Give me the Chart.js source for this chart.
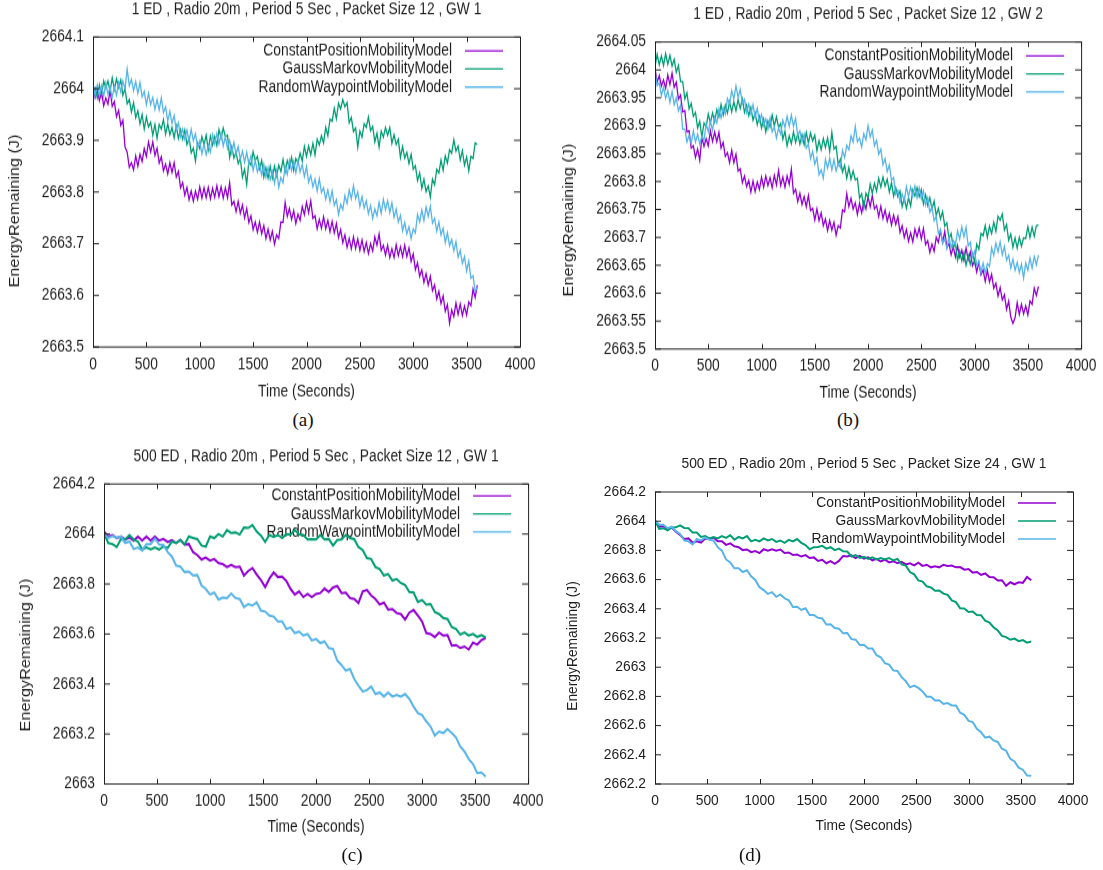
<!DOCTYPE html>
<html>
<head>
<meta charset="utf-8">
<title>EnergyRemaining</title>
<script src="https://cdn.jsdelivr.net/npm/chart.js@4.4.0/dist/chart.umd.min.js"></script>
<style>
  html, body { margin: 0; padding: 0; background: #fff; }
  body { width: 1103px; height: 870px; position: relative; overflow: hidden; }
  canvas { position: absolute; transform-origin: 0 0; }
  .cap {
    position: absolute;
    font-family: 'Liberation Serif', 'Times New Roman', serif;
    font-size: 19px;
    color: #111;
    transform: translate(-50%, -50%);
  }
</style>
</head>
<body>
<canvas id="chartA"></canvas>
<canvas id="chartB"></canvas>
<canvas id="chartC"></canvas>
<canvas id="chartD"></canvas>
<div class="cap" style="left:303px;top:420px">(a)</div>
<div class="cap" style="left:848px;top:420px">(b)</div>
<div class="cap" style="left:352px;top:855px">(c)</div>
<div class="cap" style="left:750px;top:855px">(d)</div>

<script>
// sample times (s): 20 s steps for the 1 ED runs, 40 s steps for the 500 ED runs
const times20 = [0, 20, 40, 60, 80, 100, 120, 140, 160, 180,
  200, 220, 240, 260, 280, 300, 320, 340, 360, 380,
  400, 420, 440, 460, 480, 500, 520, 540, 560, 580,
  600, 620, 640, 660, 680, 700, 720, 740, 760, 780,
  800, 820, 840, 860, 880, 900, 920, 940, 960, 980,
  1000, 1020, 1040, 1060, 1080, 1100, 1120, 1140, 1160, 1180,
  1200, 1220, 1240, 1260, 1280, 1300, 1320, 1340, 1360, 1380,
  1400, 1420, 1440, 1460, 1480, 1500, 1520, 1540, 1560, 1580,
  1600, 1620, 1640, 1660, 1680, 1700, 1720, 1740, 1760, 1780,
  1800, 1820, 1840, 1860, 1880, 1900, 1920, 1940, 1960, 1980,
  2000, 2020, 2040, 2060, 2080, 2100, 2120, 2140, 2160, 2180,
  2200, 2220, 2240, 2260, 2280, 2300, 2320, 2340, 2360, 2380,
  2400, 2420, 2440, 2460, 2480, 2500, 2520, 2540, 2560, 2580,
  2600, 2620, 2640, 2660, 2680, 2700, 2720, 2740, 2760, 2780,
  2800, 2820, 2840, 2860, 2880, 2900, 2920, 2940, 2960, 2980,
  3000, 3020, 3040, 3060, 3080, 3100, 3120, 3140, 3160, 3180,
  3200, 3220, 3240, 3260, 3280, 3300, 3320, 3340, 3360, 3380,
  3400, 3420, 3440, 3460, 3480, 3500, 3520, 3540, 3560, 3580,
  3600];
const times40 = [0, 40, 80, 120, 160, 200, 240, 280, 320, 360,
  400, 440, 480, 520, 560, 600, 640, 680, 720, 760,
  800, 840, 880, 920, 960, 1000, 1040, 1080, 1120, 1160,
  1200, 1240, 1280, 1320, 1360, 1400, 1440, 1480, 1520, 1560,
  1600, 1640, 1680, 1720, 1760, 1800, 1840, 1880, 1920, 1960,
  2000, 2040, 2080, 2120, 2160, 2200, 2240, 2280, 2320, 2360,
  2400, 2440, 2480, 2520, 2560, 2600, 2640, 2680, 2720, 2760,
  2800, 2840, 2880, 2920, 2960, 3000, 3040, 3080, 3120, 3160,
  3200, 3240, 3280, 3320, 3360, 3400, 3440, 3480, 3520, 3560,
  3600];

const xTicks = [0, 500, 1000, 1500, 2000, 2500, 3000, 3500, 4000];
const seriesNames = ['ConstantPositionMobilityModel', 'GaussMarkovMobilityModel', 'RandomWaypointMobilityModel'];
const seriesColors = ['#9400d3', '#009e73', '#56b4e9'];

// ---- (a) 1 ED, GW 1
const titleA = '1 ED , Radio 20m , Period 5 Sec , Packet Size 12 , GW 1';
const yTicksA = [2663.5, 2663.6, 2663.7, 2663.8, 2663.9, 2664, 2664.1];
const constantA = [2664.010, 2663.983, 2663.998, 2663.977, 2663.994, 2663.967, 2663.982, 2663.970, 2663.997, 2663.966,
  2663.975, 2663.946, 2663.958, 2663.929, 2663.939, 2663.887, 2663.877, 2663.848, 2663.857, 2663.843,
  2663.870, 2663.850, 2663.873, 2663.859, 2663.884, 2663.869, 2663.897, 2663.878, 2663.897, 2663.871,
  2663.885, 2663.856, 2663.868, 2663.841, 2663.854, 2663.835, 2663.857, 2663.838, 2663.857, 2663.829,
  2663.840, 2663.808, 2663.818, 2663.794, 2663.809, 2663.785, 2663.802, 2663.782, 2663.802, 2663.786,
  2663.810, 2663.788, 2663.808, 2663.789, 2663.809, 2663.787, 2663.807, 2663.790, 2663.812, 2663.791,
  2663.810, 2663.788, 2663.808, 2663.789, 2663.818, 2663.775, 2663.782, 2663.762, 2663.782, 2663.759,
  2663.775, 2663.750, 2663.768, 2663.741, 2663.754, 2663.727, 2663.742, 2663.722, 2663.742, 2663.719,
  2663.735, 2663.710, 2663.728, 2663.707, 2663.724, 2663.699, 2663.717, 2663.710, 2663.742, 2663.741,
  2663.780, 2663.753, 2663.768, 2663.747, 2663.764, 2663.739, 2663.757, 2663.745, 2663.772, 2663.756,
  2663.780, 2663.760, 2663.783, 2663.749, 2663.754, 2663.729, 2663.747, 2663.730, 2663.752, 2663.729,
  2663.745, 2663.723, 2663.743, 2663.721, 2663.739, 2663.712, 2663.727, 2663.702, 2663.717, 2663.693,
  2663.710, 2663.690, 2663.713, 2663.691, 2663.709, 2663.687, 2663.707, 2663.685, 2663.702, 2663.681,
  2663.700, 2663.686, 2663.713, 2663.697, 2663.719, 2663.687, 2663.697, 2663.678, 2663.697, 2663.673,
  2663.690, 2663.673, 2663.698, 2663.677, 2663.694, 2663.675, 2663.697, 2663.675, 2663.692, 2663.666,
  2663.680, 2663.650, 2663.663, 2663.637, 2663.649, 2663.625, 2663.642, 2663.620, 2663.637, 2663.609,
  2663.620, 2663.593, 2663.608, 2663.584, 2663.599, 2663.569, 2663.582, 2663.546, 2663.572, 2663.559,
  2663.585, 2663.563, 2663.583, 2663.561, 2663.579, 2663.562, 2663.587, 2663.580, 2663.612, 2663.596,
  2663.620];
const gaussA = [2663.984, 2664.001, 2663.982, 2664.007, 2663.987, 2664.015, 2664.001, 2664.015, 2663.995, 2664.021,
  2663.999, 2664.019, 2664.002, 2664.017, 2663.987, 2664.000, 2663.971, 2663.979, 2663.955, 2663.973,
  2663.944, 2663.957, 2663.932, 2663.950, 2663.922, 2663.945, 2663.926, 2663.935, 2663.910, 2663.931,
  2663.904, 2663.931, 2663.922, 2663.940, 2663.912, 2663.932, 2663.911, 2663.925, 2663.905, 2663.928,
  2663.904, 2663.921, 2663.902, 2663.920, 2663.892, 2663.905, 2663.876, 2663.885, 2663.860, 2663.895,
  2663.884, 2663.907, 2663.892, 2663.910, 2663.882, 2663.908, 2663.891, 2663.907, 2663.890, 2663.921,
  2663.904, 2663.924, 2663.907, 2663.910, 2663.867, 2663.888, 2663.866, 2663.877, 2663.855, 2663.865,
  2663.829, 2663.844, 2663.815, 2663.860, 2663.852, 2663.878, 2663.861, 2663.869, 2663.845, 2663.861,
  2663.829, 2663.847, 2663.827, 2663.850, 2663.827, 2663.850, 2663.831, 2663.852, 2663.840, 2663.863,
  2663.839, 2663.861, 2663.847, 2663.867, 2663.842, 2663.865, 2663.856, 2663.875, 2663.860, 2663.888,
  2663.869, 2663.889, 2663.872, 2663.894, 2663.872, 2663.902, 2663.891, 2663.909, 2663.895, 2663.925,
  2663.909, 2663.941, 2663.937, 2663.962, 2663.942, 2663.972, 2663.961, 2663.979, 2663.965, 2663.973,
  2663.934, 2663.944, 2663.917, 2663.924, 2663.887, 2663.918, 2663.906, 2663.932, 2663.925, 2663.945,
  2663.919, 2663.927, 2663.897, 2663.914, 2663.887, 2663.918, 2663.906, 2663.925, 2663.910, 2663.925,
  2663.894, 2663.911, 2663.892, 2663.902, 2663.867, 2663.888, 2663.866, 2663.877, 2663.855, 2663.873,
  2663.844, 2663.851, 2663.822, 2663.837, 2663.807, 2663.825, 2663.801, 2663.812, 2663.790, 2663.825,
  2663.814, 2663.844, 2663.837, 2663.862, 2663.842, 2663.870, 2663.856, 2663.882, 2663.875, 2663.901,
  2663.879, 2663.889, 2663.862, 2663.880, 2663.852, 2663.868, 2663.841, 2663.869, 2663.865, 2663.895,
  2663.892];
const waypointA = [2664.009, 2663.987, 2664.007, 2663.987, 2664.005, 2663.985, 2664.011, 2663.989, 2664.003, 2663.983,
  2664.004, 2663.987, 2664.012, 2663.994, 2664.015, 2663.999, 2664.038, 2664.006, 2664.018, 2663.996,
  2664.014, 2663.991, 2664.012, 2663.984, 2663.995, 2663.969, 2663.991, 2663.969, 2663.983, 2663.960,
  2663.979, 2663.959, 2663.982, 2663.954, 2663.965, 2663.937, 2663.956, 2663.933, 2663.948, 2663.920,
  2663.934, 2663.907, 2663.922, 2663.902, 2663.920, 2663.897, 2663.921, 2663.899, 2663.913, 2663.886,
  2663.899, 2663.874, 2663.892, 2663.872, 2663.890, 2663.877, 2663.911, 2663.893, 2663.913, 2663.893,
  2663.914, 2663.889, 2663.907, 2663.884, 2663.900, 2663.875, 2663.896, 2663.873, 2663.888, 2663.863,
  2663.879, 2663.857, 2663.877, 2663.854, 2663.870, 2663.842, 2663.861, 2663.839, 2663.853, 2663.833,
  2663.854, 2663.829, 2663.847, 2663.824, 2663.840, 2663.817, 2663.841, 2663.809, 2663.828, 2663.818,
  2663.849, 2663.834, 2663.862, 2663.842, 2663.860, 2663.837, 2663.861, 2663.839, 2663.853, 2663.830,
  2663.849, 2663.819, 2663.832, 2663.810, 2663.825, 2663.802, 2663.826, 2663.799, 2663.808, 2663.786,
  2663.804, 2663.781, 2663.802, 2663.774, 2663.785, 2663.757, 2663.776, 2663.766, 2663.793, 2663.778,
  2663.804, 2663.787, 2663.812, 2663.787, 2663.800, 2663.772, 2663.791, 2663.769, 2663.783, 2663.758,
  2663.774, 2663.749, 2663.767, 2663.754, 2663.780, 2663.759, 2663.786, 2663.766, 2663.783, 2663.760,
  2663.779, 2663.751, 2663.767, 2663.742, 2663.755, 2663.725, 2663.741, 2663.719, 2663.733, 2663.710,
  2663.729, 2663.721, 2663.757, 2663.742, 2663.765, 2663.745, 2663.771, 2663.753, 2663.773, 2663.740,
  2663.749, 2663.724, 2663.742, 2663.717, 2663.730, 2663.702, 2663.721, 2663.696, 2663.708, 2663.686,
  2663.704, 2663.674, 2663.687, 2663.662, 2663.675, 2663.647, 2663.666, 2663.633, 2663.638, 2663.608,
  2663.615];

// ---- (b) 1 ED, GW 2
const titleB = '1 ED , Radio 20m , Period 5 Sec , Packet Size 12 , GW 2';
const yTicksB = [2663.5, 2663.55, 2663.6, 2663.65, 2663.7, 2663.75, 2663.8, 2663.85, 2663.9, 2663.95, 2664, 2664.05];
const constantB = [2664.003, 2663.978, 2663.990, 2663.971, 2663.982, 2663.967, 2663.991, 2663.974, 2663.994, 2663.969,
  2663.978, 2663.948, 2663.955, 2663.925, 2663.927, 2663.889, 2663.891, 2663.860, 2663.864, 2663.843,
  2663.858, 2663.838, 2663.880, 2663.863, 2663.877, 2663.864, 2663.891, 2663.872, 2663.889, 2663.871,
  2663.888, 2663.860, 2663.870, 2663.845, 2663.852, 2663.834, 2663.856, 2663.834, 2663.849, 2663.819,
  2663.823, 2663.798, 2663.810, 2663.791, 2663.802, 2663.781, 2663.801, 2663.782, 2663.799, 2663.786,
  2663.808, 2663.790, 2663.810, 2663.793, 2663.807, 2663.789, 2663.811, 2663.794, 2663.820, 2663.793,
  2663.808, 2663.790, 2663.810, 2663.795, 2663.822, 2663.779, 2663.786, 2663.764, 2663.779, 2663.759,
  2663.773, 2663.755, 2663.775, 2663.748, 2663.752, 2663.731, 2663.751, 2663.730, 2663.744, 2663.721,
  2663.733, 2663.712, 2663.730, 2663.713, 2663.727, 2663.704, 2663.721, 2663.717, 2663.749, 2663.746,
  2663.778, 2663.755, 2663.770, 2663.751, 2663.762, 2663.741, 2663.761, 2663.744, 2663.764, 2663.751,
  2663.773, 2663.755, 2663.775, 2663.751, 2663.757, 2663.737, 2663.756, 2663.734, 2663.749, 2663.729,
  2663.743, 2663.722, 2663.740, 2663.723, 2663.737, 2663.709, 2663.721, 2663.700, 2663.714, 2663.693,
  2663.708, 2663.692, 2663.715, 2663.701, 2663.717, 2663.697, 2663.716, 2663.687, 2663.694, 2663.673,
  2663.688, 2663.675, 2663.700, 2663.691, 2663.712, 2663.691, 2663.711, 2663.682, 2663.689, 2663.669,
  2663.683, 2663.665, 2663.685, 2663.665, 2663.677, 2663.659, 2663.681, 2663.660, 2663.674, 2663.649,
  2663.658, 2663.638, 2663.655, 2663.633, 2663.642, 2663.621, 2663.641, 2663.620, 2663.634, 2663.609,
  2663.618, 2663.595, 2663.610, 2663.588, 2663.597, 2663.571, 2663.586, 2663.557, 2663.546, 2663.556,
  2663.583, 2663.562, 2663.580, 2663.563, 2663.577, 2663.561, 2663.586, 2663.580, 2663.609, 2663.596,
  2663.612];
const gaussB = [2664.006, 2664.028, 2664.009, 2664.025, 2664.008, 2664.029, 2664.010, 2664.026, 2664.007, 2664.019,
  2663.996, 2664.008, 2663.979, 2663.979, 2663.948, 2663.959, 2663.930, 2663.940, 2663.917, 2663.924,
  2663.896, 2663.908, 2663.879, 2663.905, 2663.898, 2663.921, 2663.905, 2663.923, 2663.907, 2663.929,
  2663.916, 2663.938, 2663.919, 2663.937, 2663.923, 2663.943, 2663.925, 2663.943, 2663.927, 2663.947,
  2663.931, 2663.948, 2663.924, 2663.937, 2663.918, 2663.933, 2663.910, 2663.923, 2663.902, 2663.917,
  2663.896, 2663.912, 2663.889, 2663.909, 2663.898, 2663.919, 2663.900, 2663.916, 2663.897, 2663.904,
  2663.876, 2663.890, 2663.864, 2663.882, 2663.868, 2663.889, 2663.870, 2663.886, 2663.867, 2663.884,
  2663.866, 2663.888, 2663.869, 2663.887, 2663.873, 2663.883, 2663.855, 2663.873, 2663.857, 2663.877,
  2663.861, 2663.878, 2663.854, 2663.888, 2663.858, 2663.863, 2663.830, 2663.840, 2663.817, 2663.829,
  2663.806, 2663.825, 2663.804, 2663.819, 2663.803, 2663.806, 2663.770, 2663.778, 2663.752, 2663.779,
  2663.771, 2663.795, 2663.779, 2663.797, 2663.783, 2663.806, 2663.790, 2663.808, 2663.792, 2663.804,
  2663.781, 2663.798, 2663.774, 2663.789, 2663.773, 2663.783, 2663.755, 2663.770, 2663.752, 2663.771,
  2663.756, 2663.785, 2663.774, 2663.789, 2663.773, 2663.786, 2663.760, 2663.776, 2663.757, 2663.771,
  2663.751, 2663.765, 2663.739, 2663.752, 2663.733, 2663.746, 2663.720, 2663.726, 2663.697, 2663.707,
  2663.681, 2663.690, 2663.659, 2663.675, 2663.658, 2663.673, 2663.650, 2663.668, 2663.652, 2663.671,
  2663.656, 2663.688, 2663.679, 2663.707, 2663.703, 2663.721, 2663.700, 2663.720, 2663.707, 2663.727,
  2663.711, 2663.738, 2663.731, 2663.742, 2663.713, 2663.723, 2663.695, 2663.706, 2663.682, 2663.699,
  2663.681, 2663.700, 2663.684, 2663.699, 2663.698, 2663.719, 2663.700, 2663.718, 2663.702, 2663.721,
  2663.722];
const waypointB = [2664.000, 2663.972, 2663.977, 2663.954, 2663.969, 2663.949, 2663.963, 2663.942, 2663.961, 2663.938,
  2663.950, 2663.927, 2663.937, 2663.894, 2663.894, 2663.871, 2663.883, 2663.868, 2663.891, 2663.871,
  2663.885, 2663.867, 2663.882, 2663.874, 2663.904, 2663.889, 2663.908, 2663.892, 2663.916, 2663.905,
  2663.930, 2663.914, 2663.932, 2663.921, 2663.949, 2663.939, 2663.963, 2663.948, 2663.971, 2663.951,
  2663.965, 2663.940, 2663.947, 2663.924, 2663.939, 2663.921, 2663.938, 2663.915, 2663.931, 2663.908,
  2663.920, 2663.900, 2663.912, 2663.894, 2663.914, 2663.889, 2663.898, 2663.878, 2663.896, 2663.885,
  2663.910, 2663.897, 2663.917, 2663.899, 2663.919, 2663.899, 2663.913, 2663.882, 2663.891, 2663.871,
  2663.885, 2663.860, 2663.867, 2663.841, 2663.854, 2663.831, 2663.843, 2663.812, 2663.821, 2663.806,
  2663.840, 2663.824, 2663.842, 2663.821, 2663.839, 2663.819, 2663.833, 2663.825, 2663.856, 2663.843,
  2663.865, 2663.857, 2663.882, 2663.871, 2663.899, 2663.871, 2663.878, 2663.862, 2663.886, 2663.875,
  2663.900, 2663.880, 2663.892, 2663.864, 2663.874, 2663.849, 2663.858, 2663.830, 2663.841, 2663.818,
  2663.830, 2663.802, 2663.807, 2663.777, 2663.784, 2663.763, 2663.778, 2663.765, 2663.791, 2663.773,
  2663.790, 2663.774, 2663.792, 2663.771, 2663.789, 2663.769, 2663.783, 2663.758, 2663.771, 2663.745,
  2663.755, 2663.730, 2663.737, 2663.707, 2663.714, 2663.689, 2663.698, 2663.680, 2663.701, 2663.681,
  2663.695, 2663.687, 2663.712, 2663.697, 2663.719, 2663.701, 2663.718, 2663.685, 2663.691, 2663.665,
  2663.675, 2663.650, 2663.657, 2663.637, 2663.654, 2663.636, 2663.653, 2663.648, 2663.681, 2663.668,
  2663.690, 2663.674, 2663.692, 2663.669, 2663.684, 2663.659, 2663.668, 2663.645, 2663.661, 2663.641,
  2663.655, 2663.637, 2663.652, 2663.627, 2663.654, 2663.641, 2663.663, 2663.645, 2663.666, 2663.651,
  2663.668];

// ---- (c) 500 ED, packet 12
const titleC = '500 ED , Radio 20m , Period 5 Sec , Packet Size 12 , GW 1';
const yTicksC = [2663, 2663.2, 2663.4, 2663.6, 2663.8, 2664, 2664.2];
const constantC = [2664.01, 2663.99, 2663.996, 2663.984, 2663.99, 2663.978, 2663.986, 2663.974, 2663.99, 2663.974,
  2663.99, 2663.974, 2663.99, 2663.974, 2663.98, 2663.968, 2663.976, 2663.964, 2663.976, 2663.958,
  2663.96, 2663.928, 2663.916, 2663.898, 2663.906, 2663.894, 2663.9, 2663.884, 2663.88, 2663.868,
  2663.876, 2663.868, 2663.87, 2663.834, 2663.852, 2663.864, 2663.838, 2663.816, 2663.788, 2663.822,
  2663.846, 2663.828, 2663.83, 2663.812, 2663.78, 2663.758, 2663.77, 2663.748, 2663.76, 2663.748,
  2663.76, 2663.764, 2663.782, 2663.768, 2663.786, 2663.792, 2663.764, 2663.766, 2663.744, 2663.74,
  2663.724, 2663.77, 2663.776, 2663.754, 2663.74, 2663.718, 2663.726, 2663.698, 2663.7, 2663.684,
  2663.68, 2663.658, 2663.686, 2663.696, 2663.674, 2663.65, 2663.604, 2663.6, 2663.588, 2663.606,
  2663.594, 2663.596, 2663.554, 2663.556, 2663.544, 2663.55, 2663.538, 2663.566, 2663.558, 2663.576,
  2663.584];
const gaussC = [2664.004, 2663.964, 2663.96, 2663.948, 2663.98, 2663.978, 2663.996, 2663.978, 2663.97, 2663.938,
  2663.946, 2663.938, 2663.946, 2663.938, 2663.95, 2663.944, 2663.97, 2663.964, 2663.976, 2663.958,
  2663.99, 2663.984, 2663.98, 2663.954, 2663.95, 2663.99, 2663.984, 2664.0, 2663.99, 2664.016,
  2664.004, 2664.006, 2663.998, 2664.026, 2664.024, 2664.036, 2664.01, 2663.994, 2663.968, 2663.996,
  2663.988, 2663.996, 2663.984, 2664.0, 2663.998, 2664.016, 2663.998, 2663.996, 2663.978, 2663.98,
  2663.978, 2663.996, 2663.978, 2663.98, 2663.954, 2663.976, 2663.978, 2663.996, 2663.984, 2663.98,
  2663.948, 2663.936, 2663.904, 2663.9, 2663.868, 2663.86, 2663.834, 2663.84, 2663.814, 2663.82,
  2663.804, 2663.796, 2663.768, 2663.766, 2663.728, 2663.736, 2663.718, 2663.72, 2663.688, 2663.68,
  2663.664, 2663.66, 2663.628, 2663.62, 2663.598, 2663.606, 2663.594, 2663.6, 2663.588, 2663.596,
  2663.586];
const waypointC = [2664.002, 2663.984, 2663.992, 2663.984, 2663.99, 2663.964, 2663.97, 2663.94, 2663.946, 2663.934,
  2663.96, 2663.96, 2663.982, 2663.958, 2663.956, 2663.928, 2663.91, 2663.874, 2663.87, 2663.848,
  2663.85, 2663.834, 2663.836, 2663.794, 2663.78, 2663.758, 2663.766, 2663.738, 2663.746, 2663.744,
  2663.762, 2663.744, 2663.74, 2663.708, 2663.72, 2663.714, 2663.726, 2663.694, 2663.69, 2663.674,
  2663.67, 2663.65, 2663.65, 2663.62, 2663.626, 2663.604, 2663.61, 2663.594, 2663.6, 2663.574,
  2663.58, 2663.564, 2663.57, 2663.544, 2663.54, 2663.494, 2663.476, 2663.454, 2663.46, 2663.42,
  2663.394, 2663.37, 2663.376, 2663.39, 2663.36, 2663.366, 2663.35, 2663.366, 2663.35, 2663.356,
  2663.35, 2663.36, 2663.34, 2663.31, 2663.284, 2663.276, 2663.25, 2663.23, 2663.194, 2663.21,
  2663.204, 2663.22, 2663.204, 2663.186, 2663.15, 2663.13, 2663.1, 2663.08, 2663.044, 2663.046,
  2663.03];

// ---- (d) 500 ED, packet 24
const titleD = '500 ED , Radio 20m , Period 5 Sec , Packet Size 24 , GW 1';
const yTicksD = [2662.2, 2662.4, 2662.6, 2662.8, 2663, 2663.2, 2663.4, 2663.6, 2663.8, 2664, 2664.2];
const constantD = [2664.004, 2663.962, 2663.966, 2663.948, 2663.956, 2663.928, 2663.906, 2663.878, 2663.882, 2663.852,
  2663.862, 2663.854, 2663.882, 2663.878, 2663.888, 2663.862, 2663.862, 2663.838, 2663.848, 2663.828,
  2663.822, 2663.802, 2663.806, 2663.788, 2663.796, 2663.782, 2663.808, 2663.798, 2663.808, 2663.798,
  2663.806, 2663.782, 2663.786, 2663.768, 2663.772, 2663.758, 2663.768, 2663.748, 2663.752, 2663.728,
  2663.736, 2663.712, 2663.726, 2663.708, 2663.728, 2663.762, 2663.758, 2663.766, 2663.748, 2663.762,
  2663.744, 2663.752, 2663.732, 2663.742, 2663.724, 2663.736, 2663.718, 2663.726, 2663.712, 2663.722,
  2663.704, 2663.712, 2663.698, 2663.716, 2663.694, 2663.702, 2663.684, 2663.692, 2663.684, 2663.702,
  2663.694, 2663.696, 2663.684, 2663.686, 2663.668, 2663.672, 2663.648, 2663.652, 2663.632, 2663.642,
  2663.618, 2663.616, 2663.594, 2663.596, 2663.558, 2663.582, 2663.568, 2663.582, 2663.578, 2663.618,
  2663.596];
const gaussD = [2664.004, 2663.948, 2663.952, 2663.938, 2663.956, 2663.958, 2663.972, 2663.954, 2663.952, 2663.922,
  2663.922, 2663.892, 2663.898, 2663.882, 2663.892, 2663.882, 2663.898, 2663.886, 2663.904, 2663.874,
  2663.892, 2663.882, 2663.898, 2663.862, 2663.872, 2663.862, 2663.882, 2663.868, 2663.878, 2663.858,
  2663.868, 2663.852, 2663.872, 2663.862, 2663.878, 2663.852, 2663.836, 2663.808, 2663.822, 2663.824,
  2663.832, 2663.812, 2663.822, 2663.802, 2663.812, 2663.794, 2663.792, 2663.758, 2663.768, 2663.748,
  2663.756, 2663.742, 2663.752, 2663.738, 2663.748, 2663.738, 2663.748, 2663.732, 2663.742, 2663.704,
  2663.696, 2663.652, 2663.636, 2663.594, 2663.586, 2663.554, 2663.546, 2663.524, 2663.526, 2663.504,
  2663.496, 2663.458, 2663.446, 2663.404, 2663.402, 2663.378, 2663.382, 2663.358, 2663.356, 2663.318,
  2663.306, 2663.274, 2663.252, 2663.214, 2663.206, 2663.188, 2663.196, 2663.178, 2663.186, 2663.168,
  2663.176];
const waypointD = [2664.004, 2663.978, 2663.976, 2663.952, 2663.962, 2663.932, 2663.912, 2663.868, 2663.862, 2663.842,
  2663.878, 2663.868, 2663.888, 2663.872, 2663.868, 2663.822, 2663.798, 2663.738, 2663.718, 2663.678,
  2663.678, 2663.652, 2663.664, 2663.622, 2663.598, 2663.548, 2663.528, 2663.502, 2663.514, 2663.482,
  2663.498, 2663.472, 2663.458, 2663.412, 2663.414, 2663.392, 2663.404, 2663.358, 2663.358, 2663.338,
  2663.334, 2663.292, 2663.294, 2663.268, 2663.264, 2663.232, 2663.234, 2663.192, 2663.188, 2663.152,
  2663.154, 2663.128, 2663.128, 2663.082, 2663.068, 2663.028, 2663.018, 2662.978, 2662.974, 2662.932,
  2662.904, 2662.862, 2662.874, 2662.858, 2662.834, 2662.798, 2662.798, 2662.772, 2662.774, 2662.748,
  2662.754, 2662.738, 2662.738, 2662.688, 2662.674, 2662.632, 2662.624, 2662.578, 2662.554, 2662.518,
  2662.524, 2662.498, 2662.488, 2662.442, 2662.428, 2662.372, 2662.354, 2662.312, 2662.298, 2662.258,
  2662.256];

const FONT = "'Liberation Sans', Arial, Helvetica, sans-serif";
const FS = 13.8;
const LH = FS * 1.2;
const TEXT = '#1e1e1e';
const FRAME = '#222';

// page geometry of each panel: canvas box, plot box, vertical stretch, text anchors
const panels = [
  { id: 'chartA', title: titleA, times: times20, series: [constantA, gaussA, waypointA],
    yMin: 2663.5, yMax: 2664.1, yTicks: yTicksA,
    canvas: [0, 0, 550, 405], plot: [93, 37, 520, 347], stretch: 1.18, lineWidth: 1.3,
    titleY: 9.5, xTitleY: 392.5, yLabel: [15, 211], keyY: 51 },
  { id: 'chartB', title: titleB, times: times20, series: [constantB, gaussB, waypointB],
    yMin: 2663.5, yMax: 2664.05, yTicks: yTicksB,
    canvas: [550, 0, 553, 405], plot: [655, 42, 1083, 349], stretch: 1.18, lineWidth: 1.3,
    titleY: 14.5, xTitleY: 393, yLabel: [569, 220], keyY: 56 },
  { id: 'chartC', title: titleC, times: times40, series: [constantC, gaussC, waypointC],
    yMin: 2663, yMax: 2664.2, yTicks: yTicksC,
    canvas: [0, 440, 550, 405], plot: [104, 484, 532, 784], stretch: 1.18, lineWidth: 2,
    titleY: 456.5, xTitleY: 827.5, yLabel: [26, 655], keyY: 496 },
  { id: 'chartD', title: titleD, times: times40, series: [constantD, gaussD, waypointD],
    yMin: 2662.2, yMax: 2664.2, yTicks: yTicksD,
    canvas: [550, 440, 553, 405], plot: [655, 492, 1073, 784], stretch: 1.0, lineWidth: 2,
    titleY: 464.5, xTitleY: 826.5, yLabel: [573, 646], keyY: 503 }
];

function makeChart(p) {
  const [cx, cy, cw, ch] = p.canvas;
  const s = p.stretch;
  const ly = v => (v - cy) / s;   // page y -> canvas y
  const h = Math.round(ch / s);
  const left = p.plot[0] - cx;
  const right = p.plot[2] - cx;
  const top = ly(p.plot[1]);
  const bottom = ly(p.plot[3]);
  const titleMid = ly(p.titleY);
  const xTitleMid = ly(p.xTitleY);
  const font = { family: FONT, size: FS, weight: 'normal' };

  const el = document.getElementById(p.id);
  el.width = cw;
  el.height = h;
  el.style.left = cx + 'px';
  el.style.top = cy + 'px';
  el.style.transform = 'scaleY(' + s + ')';

  // gnuplot style key, border and inward tick marks
  const gnuFrame = {
    id: 'gnuFrame',
    beforeDatasetsDraw(chart) {
      const { ctx, chartArea: a } = chart;
      ctx.save();
      ctx.font = FS + 'px ' + FONT;
      ctx.textAlign = 'right';
      ctx.textBaseline = 'middle';
      chart.data.datasets.forEach((ds, i) => {
        const y = ly(p.keyY + i * 18);
        ctx.fillStyle = TEXT;
        ctx.fillText(ds.label, a.right - 68, y);
        ctx.strokeStyle = ds.borderColor;
        ctx.lineWidth = 1.3;
        ctx.beginPath();
        ctx.moveTo(a.right - 55, y);
        ctx.lineTo(a.right - 17, y);
        ctx.stroke();
      });
      ctx.restore();
    },
    afterDraw(chart) {
      const { ctx, chartArea: a, scales } = chart;
      const tv = 5 / s;
      ctx.save();
      ctx.strokeStyle = FRAME;
      ctx.lineWidth = 1;
      ctx.strokeRect(a.left + 0.5, a.top, a.right - a.left, a.bottom - a.top);
      ctx.beginPath();
      xTicks.forEach(v => {
        const x = Math.round(scales.x.getPixelForValue(v)) + 0.5;
        ctx.moveTo(x, a.bottom); ctx.lineTo(x, a.bottom - tv);
        ctx.moveTo(x, a.top); ctx.lineTo(x, a.top + tv);
      });
      p.yTicks.forEach(v => {
        const y = scales.y.getPixelForValue(v);
        ctx.moveTo(a.left, y); ctx.lineTo(a.left + 6, y);
        ctx.moveTo(a.right, y); ctx.lineTo(a.right - 6, y);
      });
      ctx.stroke();

      ctx.translate(p.yLabel[0] - cx, ly(p.yLabel[1]));
      ctx.rotate(-Math.PI / 2);
      ctx.font = FS + 'px ' + FONT;
      ctx.fillStyle = TEXT;
      ctx.textAlign = 'center';
      ctx.textBaseline = 'middle';
      ctx.fillText('EnergyRemaining (J)', 0, 0);
      ctx.restore();
    }
  };

  return new Chart(el, {
    type: 'line',
    data: {
      datasets: p.series.map((vals, i) => ({
        label: seriesNames[i],
        data: p.times.map((t, k) => ({ x: t, y: vals[k] })),
        borderColor: seriesColors[i],
        borderWidth: p.lineWidth,
        borderJoinStyle: 'miter',
        pointRadius: 0,
        tension: 0,
        fill: false,
        order: 3 - i
      }))
    },
    options: {
      responsive: false,
      animation: false,
      events: [],
      layout: { padding: { left: 0, top: 0, bottom: 0, right: cw - right } },
      plugins: {
        legend: { display: false },
        tooltip: { enabled: false },
        title: {
          display: true,
          text: p.title,
          fullSize: false,
          color: TEXT,
          font: font,
          padding: { top: titleMid - LH / 2, bottom: top - titleMid - LH / 2 }
        }
      },
      scales: {
        x: {
          type: 'linear',
          min: 0,
          max: 4000,
          afterBuildTicks: sc => { sc.ticks = xTicks.map(v => ({ value: v })); },
          afterFit: sc => { sc.height = h - bottom; },
          grid: { display: false, drawTicks: false },
          border: { display: false },
          ticks: {
            color: TEXT, font: font, autoSkip: false, maxRotation: 0,
            padding: 17.5 / s - LH / 2,
            callback: v => String(v)
          },
          title: {
            display: true, text: 'Time (Seconds)', color: TEXT, font: font,
            padding: { top: 0, bottom: h - xTitleMid - LH / 2 }
          }
        },
        y: {
          type: 'linear',
          min: p.yMin,
          max: p.yMax,
          afterBuildTicks: sc => { sc.ticks = p.yTicks.map(v => ({ value: v })); },
          afterFit: sc => { sc.width = left; },
          grid: { display: false, drawTicks: false },
          border: { display: false },
          ticks: { color: TEXT, font: font, autoSkip: false, padding: 9, callback: v => String(v) }
        }
      }
    },
    plugins: [gnuFrame]
  });
}

panels.forEach(makeChart);
</script>
</body>
</html>
